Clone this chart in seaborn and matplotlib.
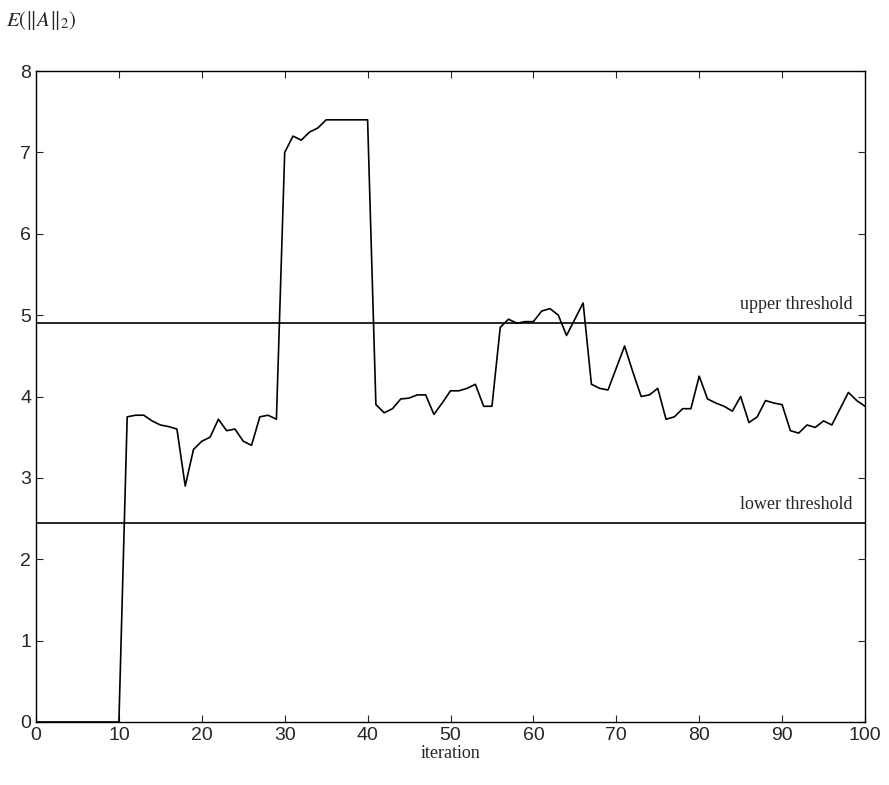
import numpy as np
import pandas as pd
import matplotlib.pyplot as plt
import seaborn as sns

sns.set_style('ticks')
plt.rcParams['font.family'] = ['Liberation Sans', 'DejaVu Sans']
plt.rcParams['mathtext.fontset'] = 'stix'

# E(||A||_2) per iteration
iterations = list(range(0, 101))
energy = [0.0] * 11 + [
    3.75, 3.77, 3.77, 3.70, 3.65, 3.63, 3.60, 2.90, 3.35, 3.45,
    3.50, 3.72, 3.58, 3.60, 3.45, 3.40, 3.75, 3.77, 3.72, 7.00,
    7.20, 7.15, 7.25, 7.30, 7.40, 7.40, 7.40, 7.40, 7.40, 7.40,
    3.90, 3.80, 3.85, 3.97, 3.98, 4.02, 4.02, 3.78, 3.92, 4.07,
    4.07, 4.10, 4.15, 3.88, 3.88, 4.85, 4.95, 4.90, 4.92, 4.92,
    5.05, 5.08, 5.00, 4.75, 4.95, 5.15, 4.15, 4.10, 4.08, 4.35,
    4.62, 4.30, 4.00, 4.02, 4.10, 3.72, 3.75, 3.85, 3.85, 4.25,
    3.97, 3.92, 3.88, 3.82, 4.00, 3.68, 3.75, 3.95, 3.92, 3.90,
    3.58, 3.55, 3.65, 3.62, 3.70, 3.65, 3.85, 4.05, 3.95, 3.88,
]
upper_threshold = 4.9
lower_threshold = 2.45

df = pd.DataFrame({'iteration': iterations, 'energy': energy})

fig = plt.figure(figsize=(8.89, 7.85), dpi=100)
ax = fig.add_axes([36 / 889, 63 / 785, 829 / 889, 651 / 785])
sns.lineplot(data=df, x='iteration', y='energy', color='black', lw=1.2, ax=ax)
ax.axhline(upper_threshold, color='black', lw=1.2)
ax.axhline(lower_threshold, color='black', lw=1.2)
serif = ['Liberation Serif', 'DejaVu Serif']
ax.text(98.5, upper_threshold + 0.12, 'upper threshold', ha='right', va='bottom',
        fontsize=13, family=serif)
ax.text(98.5, lower_threshold + 0.12, 'lower threshold', ha='right', va='bottom',
        fontsize=13, family=serif)

ax.set_xlim(0, 100)
ax.set_ylim(0, 8)
ax.set_xticks(range(0, 101, 10))
ax.set_yticks(range(0, 9))
ax.tick_params(direction='in', labelsize=14, top=True, right=True, length=5)
for s in ax.spines.values():
    s.set_visible(True)
    s.set_linewidth(1)
    s.set_color('black')
ax.set_xlabel('iteration', fontsize=13, labelpad=1, family=serif)
ax.set_ylabel('')
fig.text(6 / 889, 1 - 20 / 785, r'$E\left(\|A\|_2\right)$', fontsize=15, va='center')

fig.savefig('out.png', dpi=100)
